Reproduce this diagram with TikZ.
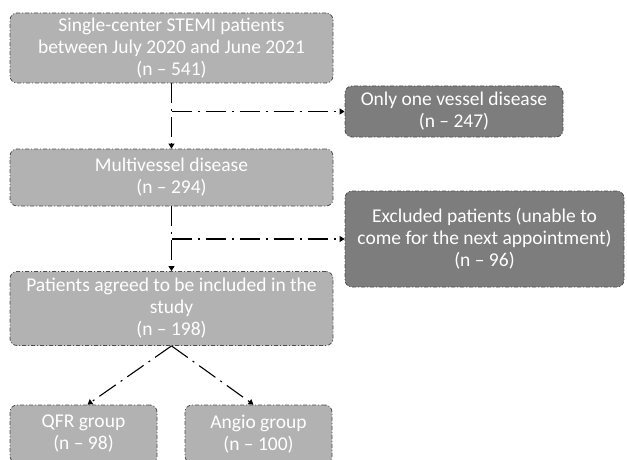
\documentclass[tikz,border=0pt]{standalone}
\usepackage{fontspec}
\setmainfont{Carlito}
\usetikzlibrary{arrows.meta}

\begin{document}
\begin{tikzpicture}[
  x=1pt, y=-1pt,
  lbox/.style={draw=black!70, line width=0.8pt, dash pattern=on 4pt off 2pt on 1pt off 2pt,
    rounded corners=7pt, fill=black!30, text=white, align=center, inner sep=0pt,
    font=\fontsize{19.5}{22}\selectfont},
  dbox/.style={lbox, fill=black!51},
  link/.style={line width=1.1pt, dash pattern=on 20pt off 6pt on 2pt off 6pt,
    -{Triangle[length=5pt,width=6pt]}}
]

\useasboundingbox (0,0) rectangle (627,460);

\node [lbox, minimum width=323pt, minimum height=70pt] (pat) at (171.5,48)
  {Single-center STEMI patients\\between July 2020 and June 2021\\(n -- 541)};
\node [dbox, minimum width=218pt, minimum height=51pt] (one) at (454,111.5)
  {Only one vessel disease\\(n -- 247)};
\node [lbox, minimum width=323pt, minimum height=57pt] (multi) at (171.5,177.5)
  {Multivessel disease\\(n -- 294)};
\node [dbox, minimum width=279pt, minimum height=96pt] (excl) at (484.5,239)
  {Excluded patients (unable to\\come for the next appointment)\\(n -- 96)};
\node [lbox, minimum width=323pt, minimum height=74pt] (agree) at (171.5,308.5)
  {Patients agreed to be included in the\\study\\(n -- 198)};
\node [lbox, minimum width=147pt, minimum height=58pt] (qfr) at (83.5,434)
  {QFR group\\(n -- 98)};
\node [lbox, minimum width=147pt, minimum height=58pt] (angio) at (258.5,434)
  {Angio group\\(n -- 100)};

\coordinate (br1) at (pat.south |- one.west);
\coordinate (br2) at (multi.south |- excl.west);

\draw [link] (pat.south) -- (multi.north);
\draw [link] (br1) -- (one.west);
\draw [link] (multi.south) -- (agree.north);
\draw [link] (br2) -- (excl.west);
\draw [link] (agree.south) -- ([xshift=4pt]qfr.north);
\draw [link] (agree.south) -- ([xshift=-5pt]angio.north);

\end{tikzpicture}
\end{document}
